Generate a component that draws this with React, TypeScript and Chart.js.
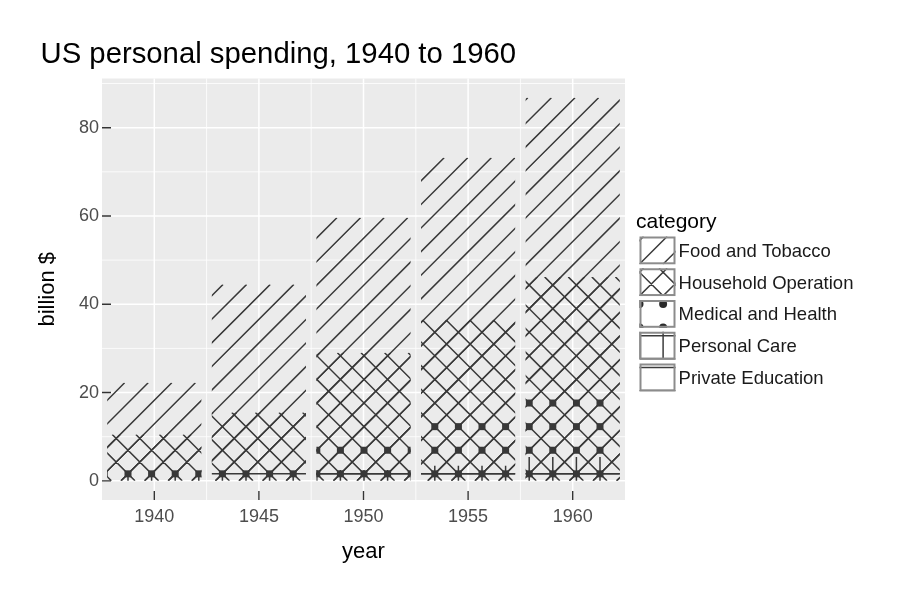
import React, { useEffect, useRef } from "react";
import { Chart, registerables } from "chart.js";

Chart.register(...registerables);

// ---- data ----
const years = ["1940", "1945", "1950", "1955", "1960"];
const categories = [
  "Food and Tobacco",
  "Household Operation",
  "Medical and Health",
  "Personal Care",
  "Private Education",
];
const foodTobacco = [22.2, 44.5, 59.6, 73.2, 86.8];
const householdOperation = [10.5, 15.5, 29.0, 36.5, 46.2];
const medicalHealth = [3.53, 5.76, 9.71, 14.0, 21.1];
const personalCare = [1.04, 1.98, 2.45, 3.4, 5.4];
const privateEducation = [0.341, 0.974, 1.8, 2.6, 3.64];
const patternKinds = ["diagonal", "crosshatch", "dots", "grid", "horizontal"];
const yMajorTicks = [0, 20, 40, 60, 80];
const yMinorTicks = [10, 30, 50, 70, 90];

const seriesValues = [foodTobacco, householdOperation, medicalHealth, personalCare, privateEducation];

// ---- styles ----
const FONT = '"Liberation Sans", Arial, Helvetica, sans-serif';
const PANEL_BG = "#EBEBEB";
const INK = "#383838";
const CELL = 23.6;

const dataMax = Math.max(...seriesValues.map((s) => Math.max(...s)));
const yMin = -0.05 * dataMax;
const yMax = dataMax * 1.05;

function drawPattern(
  ctx: CanvasRenderingContext2D,
  kind: string,
  l: number,
  t: number,
  r: number,
  b: number,
  x0: number,
  y0: number,
  s: number,
  round: boolean
) {
  ctx.beginPath();
  if (kind === "diagonal" || kind === "crosshatch") {
    const base = x0 + y0;
    const k0 = Math.floor((l + t - base) / s) - 1;
    const k1 = Math.ceil((r + b - base) / s) + 1;
    for (let k = k0; k <= k1; k++) {
      const c = base + k * s;
      ctx.moveTo(c - b, b);
      ctx.lineTo(c - t, t);
    }
  }
  if (kind === "crosshatch") {
    const base = x0 - y0;
    const k0 = Math.floor((l - b - base) / s) - 1;
    const k1 = Math.ceil((r - t - base) / s) + 1;
    for (let k = k0; k <= k1; k++) {
      const c = base + k * s;
      ctx.moveTo(c + t, t);
      ctx.lineTo(c + b, b);
    }
  }
  if (kind === "grid") {
    const k0 = Math.floor((l - x0) / s) - 1;
    const k1 = Math.ceil((r - x0) / s) + 1;
    for (let k = k0; k <= k1; k++) {
      const x = x0 + k * s;
      ctx.moveTo(x, t - 2);
      ctx.lineTo(x, b + 2);
    }
  }
  if (kind === "grid" || kind === "horizontal") {
    const k0 = Math.floor((t - y0) / s) - 1;
    const k1 = Math.ceil((b - y0) / s) + 1;
    for (let k = k0; k <= k1; k++) {
      const y = y0 + k * s;
      ctx.moveTo(l - 2, y);
      ctx.lineTo(r + 2, y);
    }
  }
  ctx.stroke();
  if (kind === "dots") {
    const i0 = Math.floor((l - x0) / s) - 1;
    const i1 = Math.ceil((r - x0) / s) + 1;
    const j0 = Math.floor((t - y0) / s) - 1;
    const j1 = Math.ceil((b - y0) / s) + 1;
    for (let i = i0; i <= i1; i++) {
      for (let j = j0; j <= j1; j++) {
        const x = x0 + i * s;
        const y = y0 + j * s;
        if (round) {
          ctx.beginPath();
          ctx.arc(x, y, 4, 0, Math.PI * 2);
          ctx.fill();
        } else {
          ctx.fillRect(x - 3.5, y - 3.5, 7, 7);
        }
      }
    }
  }
}

const panelPlugin = {
  id: "ggPanel",
  beforeDatasetsDraw(chart: any) {
    const { ctx, chartArea: a, scales } = chart;
    const xs = scales.x;
    const ys = scales.y;
    ctx.save();
    ctx.fillStyle = PANEL_BG;
    ctx.fillRect(a.left, a.top, a.right - a.left, a.bottom - a.top);
    ctx.strokeStyle = "#FFFFFF";
    // minor
    ctx.lineWidth = 0.8;
    ctx.beginPath();
    yMinorTicks.forEach((v) => {
      const y = ys.getPixelForValue(v);
      ctx.moveTo(a.left, y);
      ctx.lineTo(a.right, y);
    });
    for (let i = 0; i < years.length - 1; i++) {
      const x = (xs.getPixelForValue(i) + xs.getPixelForValue(i + 1)) / 2;
      ctx.moveTo(x, a.top);
      ctx.lineTo(x, a.bottom);
    }
    ctx.stroke();
    // major
    ctx.lineWidth = 1.5;
    ctx.beginPath();
    yMajorTicks.forEach((v) => {
      const y = ys.getPixelForValue(v);
      ctx.moveTo(a.left, y);
      ctx.lineTo(a.right, y);
    });
    years.forEach((_, i) => {
      const x = xs.getPixelForValue(i);
      ctx.moveTo(x, a.top);
      ctx.lineTo(x, a.bottom);
    });
    ctx.stroke();
    ctx.restore();
  },
  afterDatasetsDraw(chart: any) {
    const { ctx, chartArea: a, scales } = chart;
    const ys = scales.y;
    const xs = scales.x;
    const x0 = a.left + 26;
    const y0 = ys.getPixelForValue(0) - 7;
    ctx.save();
    ctx.beginPath();
    ctx.rect(a.left, a.top, a.right - a.left, a.bottom - a.top);
    ctx.clip();
    chart.data.datasets.forEach((ds: any, d: number) => {
      const meta = chart.getDatasetMeta(d);
      meta.data.forEach((el: any) => {
        const p = el.getProps(["x", "y", "base", "width"], true);
        const l = p.x - p.width / 2;
        const r = p.x + p.width / 2;
        const t = Math.min(p.y, p.base);
        const b = Math.max(p.y, p.base);
        ctx.save();
        ctx.beginPath();
        ctx.rect(l, t, r - l, b - t);
        ctx.clip();
        ctx.strokeStyle = INK;
        ctx.fillStyle = INK;
        ctx.lineWidth = 1.5;
        drawPattern(ctx, patternKinds[d], l, t, r, b, x0, y0, CELL, false);
        ctx.restore();
      });
    });
    // inward tick marks
    ctx.strokeStyle = "#333333";
    ctx.lineWidth = 1.4;
    ctx.beginPath();
    years.forEach((_, i) => {
      const x = xs.getPixelForValue(i);
      ctx.moveTo(x, a.bottom);
      ctx.lineTo(x, a.bottom - 9);
    });
    yMajorTicks.forEach((v) => {
      const y = ys.getPixelForValue(v);
      ctx.moveTo(a.left, y);
      ctx.lineTo(a.left + 9, y);
    });
    ctx.stroke();
    ctx.restore();
  },
  afterDraw(chart: any) {
    const { ctx } = chart;
    ctx.save();
    // title
    ctx.fillStyle = "#000000";
    ctx.textAlign = "left";
    ctx.textBaseline = "alphabetic";
    ctx.font = `29.3px ${FONT}`;
    ctx.fillText("US personal spending, 1940 to 1960", 40.5, 63.3);
    // legend
    ctx.font = `21px ${FONT}`;
    ctx.fillText("category", 636, 228.3);
    const keyLeft = 639.5;
    const keyW = 36;
    const keyH = 27.8;
    const keyTop0 = 236.5;
    const keyStep = 31.75;
    categories.forEach((name, i) => {
      const top = keyTop0 + i * keyStep;
      const l = keyLeft;
      const r = keyLeft + keyW;
      const t = top;
      const b = top + keyH;
      ctx.save();
      ctx.fillStyle = "#FFFFFF";
      ctx.fillRect(l, t, keyW, keyH);
      ctx.beginPath();
      ctx.rect(l, t, keyW, keyH);
      ctx.clip();
      ctx.strokeStyle = "#3c3c3c";
      ctx.fillStyle = "#2a2a2a";
      ctx.lineWidth = 1.5;
      drawPattern(ctx, patternKinds[i], l, t, r, b, l, t + 4, CELL, true);
      ctx.restore();
      ctx.strokeStyle = "#8c8c8c";
      ctx.lineWidth = 2;
      ctx.strokeRect(l + 1, t + 1, keyW - 2, keyH - 2);
      ctx.fillStyle = "#1a1a1a";
      ctx.font = `18.5px ${FONT}`;
      ctx.fillText(name, 678.6, t + keyH / 2 + 6.4);
    });
    ctx.restore();
  },
};

export default function App() {
  const ref = useRef<HTMLCanvasElement>(null);
  useEffect(() => {
    document.body.style.margin = "0";
    document.body.style.overflow = "hidden";
    const canvas = ref.current!;
    const chart = new Chart(canvas, {
      type: "bar",
      data: {
        labels: years,
        datasets: categories.map((c, i) => ({
          label: c,
          data: seriesValues[i],
          backgroundColor: "rgba(0,0,0,0)",
          borderWidth: 0,
          grouped: false,
          barPercentage: 0.9,
          categoryPercentage: 1,
        })),
      },
      options: {
        animation: false,
        responsive: false,
        maintainAspectRatio: false,
        layout: { padding: { left: 0, right: 275, top: 78.5, bottom: 0 } },
        plugins: {
          legend: { display: false },
          tooltip: { enabled: false },
          title: { display: false },
        },
        scales: {
          x: {
            type: "category",
            offset: true,
            grid: { display: false, drawTicks: false, tickLength: 0 },
            border: { display: false },
            ticks: {
              color: "#4d4d4d",
              font: { family: FONT, size: 18 },
              padding: 6,
              maxRotation: 0,
            },
            title: {
              display: true,
              text: "year",
              color: "#000000",
              font: { family: FONT, size: 22 },
              padding: { top: 0, bottom: 35 },
            },
            afterFit: (s: any) => {
              s.height = 100;
            },
          },
          y: {
            type: "linear",
            min: yMin,
            max: yMax,
            grid: { display: false, drawTicks: false, tickLength: 0 },
            border: { display: false },
            ticks: {
              color: "#4d4d4d",
              font: { family: FONT, size: 18 },
              padding: 3,
            },
            afterBuildTicks: (axis: any) => {
              axis.ticks = yMajorTicks.map((v) => ({ value: v }));
            },
            title: {
              display: true,
              text: "billion $",
              color: "#000000",
              font: { family: FONT, size: 22 },
              padding: { top: 34.5, bottom: 0 },
            },
            afterFit: (s: any) => {
              s.width = 102;
            },
          },
        },
      },
      plugins: [panelPlugin],
    });
    return () => chart.destroy();
  }, []);
  return (
    <div style={{ width: 900, height: 600, position: "relative", background: "#FFFFFF" }}>
      <canvas ref={ref} width={900} height={600} style={{ display: "block", width: 900, height: 600 }} />
    </div>
  );
}
